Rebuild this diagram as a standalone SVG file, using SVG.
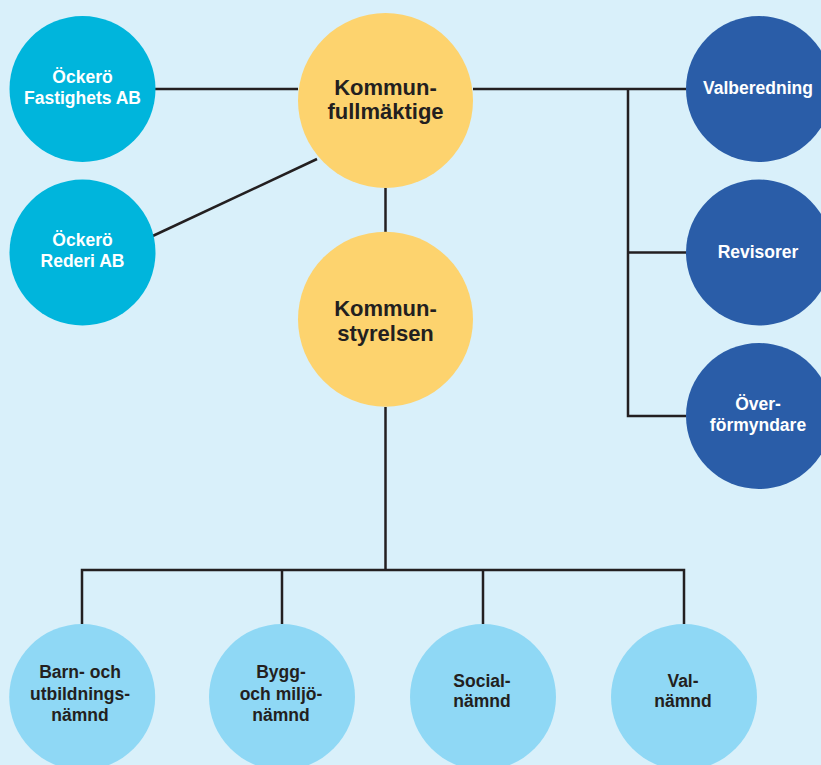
<svg xmlns="http://www.w3.org/2000/svg" width="821" height="765" viewBox="0 0 821 765">
<style>
.bg{fill:#d9f0fa}
.ln{stroke:#231f20;stroke-width:2.5;fill:none}
.cy{fill:#00b5dc}
.ye{fill:#fdd36e}
.db{fill:#2a5da8}
.lb{fill:#8fd8f5}
text{font-family:"Liberation Sans",Arial,sans-serif;font-weight:bold;text-anchor:middle}
.w{fill:#ffffff;font-size:17.5px}
.k{fill:#231f20;font-size:22px}
.d{fill:#231f20;font-size:17.5px}
</style>
<rect class="bg" x="0" y="0" width="821" height="765"/>
<g id="connectors">
<line class="ln" x1="155" y1="89" x2="298" y2="89"/>
<line class="ln" x1="152.7" y1="236" x2="317" y2="159"/>
<line class="ln" x1="385.5" y1="188" x2="385.5" y2="232"/>
<polyline class="ln" points="473,89 686,89"/>
<polyline class="ln" points="686,416 628,416 628,89"/>
<line class="ln" x1="628" y1="252.5" x2="686" y2="252.5"/>
<line class="ln" x1="385.5" y1="407" x2="385.5" y2="570"/>
<polyline class="ln" points="82,624 82,570 684,570 684,624"/>
<line class="ln" x1="282" y1="570" x2="282" y2="624"/>
<line class="ln" x1="483" y1="570" x2="483" y2="624"/>
</g>
<g id="fastighets"><circle class="cy" cx="82.5" cy="89" r="73"/><text class="w" x="82.5" y="83">Öckerö</text><text class="w" x="82.5" y="104">Fastighets AB</text></g>
<g id="rederi"><circle class="cy" cx="82.5" cy="252.5" r="73"/><text class="w" x="82.5" y="246">Öckerö</text><text class="w" x="82.5" y="267.3">Rederi AB</text></g>
<g id="kommunfullmaktige"><circle class="ye" cx="385.5" cy="100.5" r="87.5"/><text class="k" x="385.5" y="95">Kommun-</text><text class="k" x="385.5" y="119.3">fullmäktige</text></g>
<g id="kommunstyrelsen"><circle class="ye" cx="385.5" cy="319.2" r="87.5"/><text class="k" x="385.5" y="316">Kommun-</text><text class="k" x="385.5" y="341">styrelsen</text></g>
<g id="valberedning"><circle class="db" cx="759" cy="89" r="73"/><text class="w" x="758" y="94.3">Valberedning</text></g>
<g id="revisorer"><circle class="db" cx="759" cy="252.5" r="73"/><text class="w" x="758" y="258.3">Revisorer</text></g>
<g id="overformyndare"><circle class="db" cx="759" cy="416" r="73"/><text class="w" x="758" y="410">Över-</text><text class="w" x="758" y="430.7">förmyndare</text></g>
<g id="barn"><circle class="lb" cx="82.2" cy="697" r="73"/><text class="d" x="80" y="678.3">Barn- och</text><text class="d" x="80" y="699.5">utbildnings-</text><text class="d" x="80" y="720.7">nämnd</text></g>
<g id="bygg"><circle class="lb" cx="282" cy="697" r="73"/><text class="d" x="281" y="678.3">Bygg-</text><text class="d" x="281" y="699.5">och miljö-</text><text class="d" x="281" y="720.7">nämnd</text></g>
<g id="social"><circle class="lb" cx="483" cy="697" r="73"/><text class="d" x="482" y="686.7">Social-</text><text class="d" x="482" y="707.3">nämnd</text></g>
<g id="val"><circle class="lb" cx="684" cy="697" r="73"/><text class="d" x="683" y="686.7">Val-</text><text class="d" x="683" y="707.3">nämnd</text></g>
</svg>
